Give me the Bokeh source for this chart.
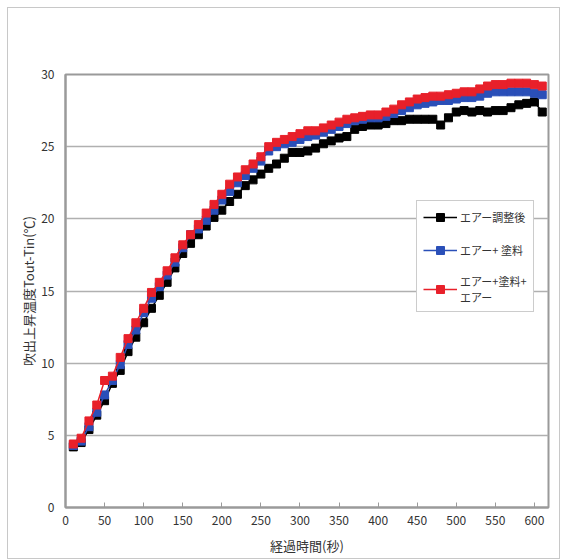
from bokeh.plotting import figure
from bokeh.models import Range1d, Legend, LegendItem, FixedTicker
from bokeh.embed import file_html
from bokeh.resources import INLINE

t = list(range(10, 620, 10))

red = [4.4, 4.8, 6.0, 7.1, 8.8, 9.1, 10.4, 11.7, 12.8, 13.8,
       14.9, 15.6, 16.4, 17.3, 18.2, 18.9, 19.6, 20.4, 21.0, 21.7,
       22.4, 22.9, 23.4, 23.8, 24.3, 25.0, 25.3, 25.5, 25.7, 25.9,
       26.1, 26.1, 26.3, 26.5, 26.7, 26.9, 27.0, 27.1, 27.2, 27.2,
       27.4, 27.6, 27.9, 28.1, 28.3, 28.4, 28.5, 28.5, 28.6, 28.7,
       28.8, 28.8, 29.0, 29.2, 29.3, 29.3, 29.4, 29.4, 29.4, 29.3, 29.2]

blue = [4.3, 4.6, 5.6, 6.6, 7.8, 8.8, 9.9, 11.3, 12.3, 13.5,
        14.5, 15.3, 16.1, 17.0, 18.0, 18.9, 19.3, 19.9, 20.6, 21.3,
        21.9, 22.5, 23.0, 23.5, 24.0, 24.7, 25.0, 25.2, 25.3, 25.5,
        25.7, 25.8, 26.0, 26.2, 26.4, 26.6, 26.8, 26.9, 27.0, 27.0,
        27.1, 27.3, 27.5, 27.7, 27.9, 28.0, 28.1, 28.2, 28.2, 28.3,
        28.4, 28.4, 28.5, 28.7, 28.8, 28.8, 28.8, 28.8, 28.8, 28.7, 28.6]

black = [4.2, 4.5, 5.4, 6.4, 7.4, 8.6, 9.5, 10.8, 11.8, 12.8,
         13.8, 14.7, 15.6, 16.6, 17.6, 18.3, 18.9, 19.5, 20.1, 20.6,
         21.2, 21.7, 22.3, 22.7, 23.1, 23.5, 23.8, 24.2, 24.6, 24.6,
         24.7, 24.9, 25.2, 25.4, 25.6, 25.7, 26.2, 26.4, 26.5, 26.5,
         26.6, 26.8, 26.8, 26.9, 26.9, 26.9, 26.9, 26.5, 27.0, 27.4,
         27.5, 27.4, 27.5, 27.4, 27.5, 27.5, 27.7, 27.9, 28.0, 28.1, 27.4]

names = ["エアー調整後", "エアー+ 塗料", "エアー+塗料+\nエアー"]
colors = ["#000000", "#2a4fb8", "#e8202a"]
series = [black, blue, red]

x_ticks = list(range(0, 650, 50))
y_ticks = list(range(0, 35, 5))

FONT = "Noto Sans CJK JP"

p = figure(width=553, height=552, output_backend="svg", toolbar_location=None,
           x_range=Range1d(0, 618), y_range=Range1d(0, 30),
           min_border_left=57, min_border_right=13, min_border_top=66, min_border_bottom=53)
p.styles = {"border": "1px solid #c8c8c8", "margin-left": "7px", "margin-top": "7px"}

p.outline_line_color = "#9a9a9a"
p.outline_line_width = 2
p.xgrid.grid_line_color = None
p.ygrid.grid_line_color = "#b0b0b0"
p.ygrid.grid_line_width = 1.5
p.xaxis.ticker = FixedTicker(ticks=x_ticks)
p.yaxis.ticker = FixedTicker(ticks=y_ticks)

for ax in (p.xaxis[0], p.yaxis[0]):
    ax.axis_line_color = "#9a9a9a"
    ax.axis_line_width = 2
    ax.major_label_text_font = FONT
    ax.major_label_text_font_size = "12px"
    ax.major_label_text_color = "#333333"
    ax.axis_label_text_font = FONT
    ax.axis_label_text_font_size = "13px"
    ax.axis_label_text_font_style = "normal"
    ax.axis_label_text_color = "#333333"
    ax.minor_tick_line_color = None

p.xaxis.major_tick_in = 5
p.xaxis.major_tick_out = 0
p.xaxis.major_tick_line_color = "#9a9a9a"
p.xaxis.major_label_standoff = 8
p.xaxis.axis_label = "経過時間(秒)"
p.xaxis.axis_label_standoff = 8

p.yaxis.major_tick_in = 0
p.yaxis.major_tick_out = 0
p.yaxis.major_label_standoff = 11
p.yaxis.axis_label = "吹出上昇温度Tout-Tin(℃)"
p.yaxis.axis_label_standoff = 0

items = []
for name, col, ys in zip(names, colors, series):
    ln = p.line(t, ys, line_color=col, line_width=1.5)
    sc = p.scatter(t, ys, marker="square", size=8, fill_color=col, line_color=col)
    items.append(LegendItem(label=name, renderers=[ln, sc]))

legend = Legend(items=items, location=(351, 195))
legend.label_text_font = FONT
legend.label_text_font_size = "11px"
legend.label_text_color = "#333333"
legend.border_line_color = "#9a9a9a"
legend.border_line_width = 1.5
legend.background_fill_alpha = 1.0
legend.spacing = 13
legend.padding = 6
legend.glyph_width = 34
legend.label_standoff = 3
legend.margin = 0
p.add_layout(legend, "center")

open("out.html", "w").write(file_html(p, INLINE))
